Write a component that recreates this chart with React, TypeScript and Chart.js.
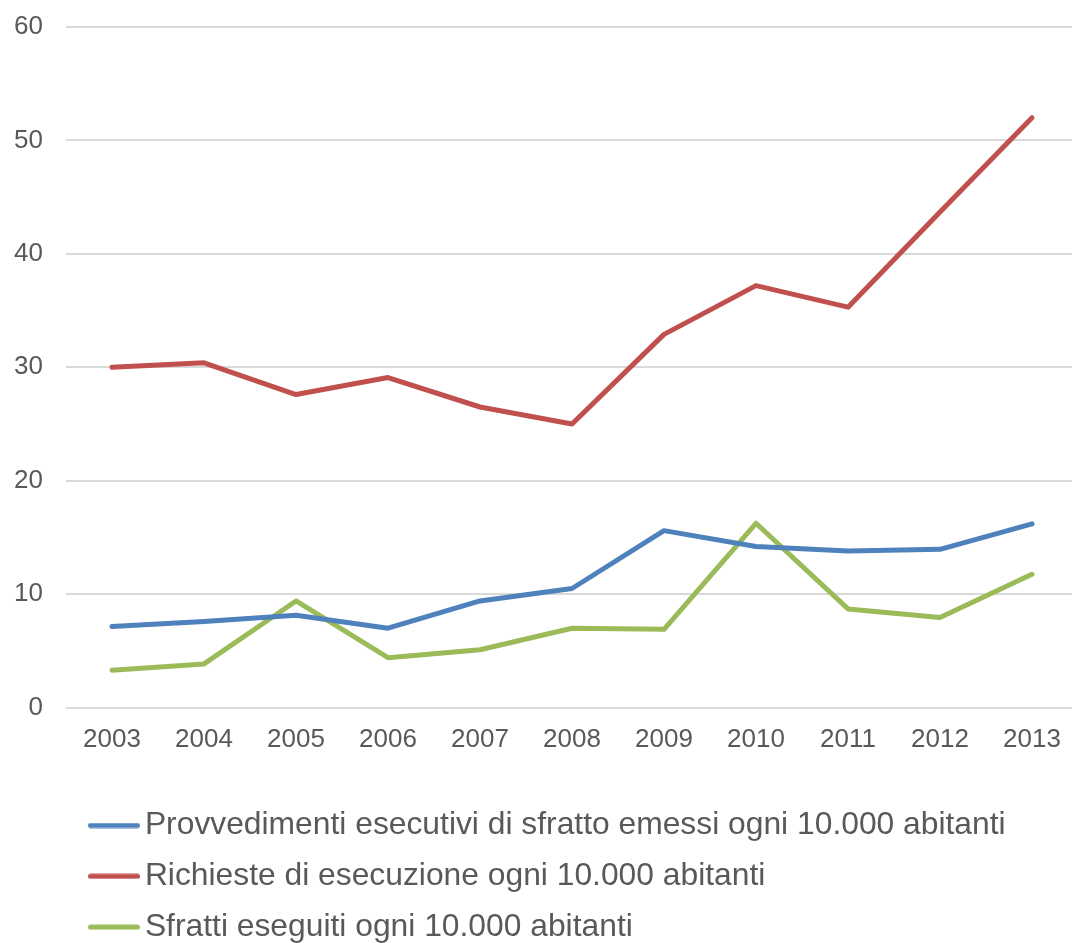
import React, { useEffect, useRef } from "react";
import { Chart, registerables } from "chart.js";

Chart.register(...registerables);

const years = ["2003", "2004", "2005", "2006", "2007", "2008", "2009", "2010", "2011", "2012", "2013"];
const provvedimenti = [7.15, 7.6, 8.15, 7.0, 9.4, 10.5, 15.6, 14.2, 13.8, 13.95, 16.2];
const richieste = [30.0, 30.4, 27.6, 29.1, 26.5, 25.0, 32.9, 37.2, 35.3, 43.7, 52.0];
const sfratti = [3.3, 3.85, 9.4, 4.4, 5.1, 7.0, 6.9, 16.25, 8.7, 7.95, 11.75];

const seriesNames = [
  "Provvedimenti esecutivi di sfratto emessi ogni 10.000 abitanti",
  "Richieste di esecuzione ogni 10.000 abitanti",
  "Sfratti eseguiti ogni 10.000 abitanti",
];
const seriesColors = ["#4F81BD", "#C0504D", "#9BBB59"];
const yTicks = [0, 10, 20, 30, 40, 50, 60];

const TEXT = "#595959";
const FONT = "'Liberation Sans', Arial, sans-serif";

function lineSwatch(color: string): HTMLCanvasElement {
  const c = document.createElement("canvas");
  c.width = 52;
  c.height = 6;
  const ctx = c.getContext("2d")!;
  ctx.strokeStyle = color;
  ctx.lineWidth = 5;
  ctx.lineCap = "round";
  ctx.beginPath();
  ctx.moveTo(2.5, 3);
  ctx.lineTo(49.5, 3);
  ctx.stroke();
  return c;
}

const legendShift = {
  id: "legendShift",
  afterLayout(chart: any) {
    const lg = chart.legend;
    if (lg) {
      lg.left = 80;
      lg.top = lg.top + 10;
    }
  },
};

export default function App() {
  const ref = useRef<HTMLCanvasElement>(null);
  useEffect(() => {
    if (!ref.current) return;
    const data = [provvedimenti, richieste, sfratti];
    const swatches = seriesColors.map(lineSwatch);
    const chart = new Chart(ref.current, {
      type: "line",
      data: {
        labels: years,
        datasets: data.map((d, i) => ({
          label: seriesNames[i],
          data: d,
          borderColor: seriesColors[i],
          backgroundColor: seriesColors[i],
          borderWidth: 5,
          borderCapStyle: "round",
          borderJoinStyle: "round",
          pointRadius: 0,
          tension: 0,
          fill: false,
        })),
      },
      options: {
        animation: false,
        responsive: false,
        layout: { padding: { top: 27, left: 0, right: 0, bottom: 0 } },
        plugins: {
          tooltip: { enabled: false },
          legend: {
            position: "bottom",
            align: "start",
            labels: {
              usePointStyle: true,
              pointStyleWidth: 30,
              padding: 19,
              color: TEXT,
              font: { family: FONT, size: 31.8 },
              generateLabels: () =>
                seriesNames.map((n, i) => ({
                  text: n,
                  fillStyle: seriesColors[i],
                  strokeStyle: seriesColors[i],
                  lineWidth: 0,
                  pointStyle: swatches[i],
                  fontColor: TEXT,
                  hidden: false,
                  datasetIndex: i,
                })),
            },
          },
        },
        scales: {
          x: {
            type: "category",
            offset: true,
            grid: { display: false, drawTicks: false },
            border: { display: false },
            ticks: { color: TEXT, font: { family: FONT, size: 26 }, padding: 17, maxRotation: 0 },
            afterFit: (s: any) => {
              s.height = 73;
            },
          },
          y: {
            min: 0,
            max: 60,
            grid: { color: "#D9D9D9", lineWidth: 2, drawTicks: false },
            border: { display: false },
            afterBuildTicks: (s: any) => {
              s.ticks = yTicks.map((v) => ({ value: v }));
            },
            ticks: { color: TEXT, font: { family: FONT, size: 26 }, padding: 23 },
            afterFit: (s: any) => {
              s.width = 66;
              s.paddingTop = 0;
              s.paddingBottom = 0;
            },
          },
        },
      },
      plugins: [legendShift],
    } as any);
    return () => chart.destroy();
  }, []);
  return (
    <div style={{ position: "absolute", left: 0, top: 0, width: 1072, height: 943, overflow: "hidden", background: "#fff" }}>
      <canvas ref={ref} width={1078} height={943} style={{ display: "block" }} />
    </div>
  );
}
